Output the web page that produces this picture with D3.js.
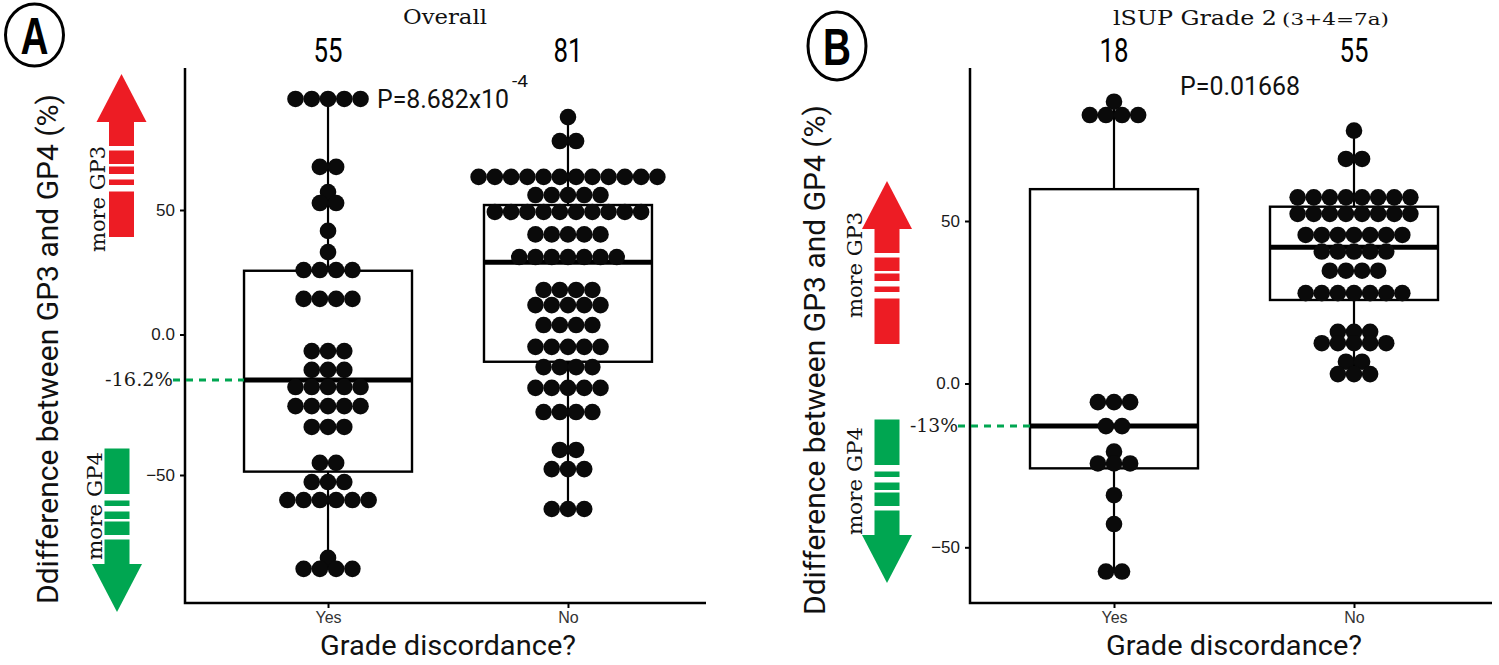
<!DOCTYPE html>
<html><head><meta charset="utf-8">
<script src="https://cdn.jsdelivr.net/npm/d3@7"></script>
<style>body{margin:0;background:#fff} svg{display:block}</style>
</head><body><svg id="c" width="1499" height="665"></svg>
<script>
// ---------- data ----------
const categories = ["Yes", "No"];
const yTicks = [-50, 0, 50];
const yTickLabels = ["\u221250", "0.0", "50"];

// Panel A (Overall): dot-plot bins (value) and number of dots in each bin
const aYesBins   = [94.6, 67.3, 57.2, 52.8, 41.6, 33.1, 25.9, 14.3, -5.9, -12.6, -18.7, -25.5, -32.9, -45.7, -52.5, -58.9, -79.5, -83.4];
const aYesCounts = [5, 2, 1, 2, 1, 1, 4, 4, 3, 3, 5, 5, 3, 2, 3, 6, 1, 4];
const aNoBins    = [87.3, 77.7, 63.3, 56.0, 49.2, 40.2, 31.1, 17.9, 11.8, 3.8, -4.4, -11.6, -19.0, -27.6, -41.1, -47.9, -62.1];
const aNoCounts  = [1, 2, 12, 5, 10, 5, 7, 4, 5, 4, 5, 4, 5, 4, 2, 3, 3];
// box stats: [lower whisker, q1, median, q3, upper whisker]
const aYesBox = [-83.4, -48.8, -16.2, 25.6, 94.6];
const aNoBox  = [-62.1, -9.7, 29.0, 52.0, 87.3];

// Panel B (ISUP Grade 2)
const bYesBins   = [86.7, 82.6, -5.7, -13.0, -20.8, -24.4, -34.1, -42.9, -57.4];
const bYesCounts = [1, 4, 3, 2, 1, 3, 1, 1, 2];
const bNoBins    = [77.8, 69.1, 57.3, 52.2, 45.7, 40.6, 34.7, 27.8, 15.9, 12.4, 6.7, 2.9];
const bNoCounts  = [1, 2, 8, 8, 7, 5, 4, 7, 3, 5, 2, 3];
const bYesBox = [-57.4, -25.9, -13, 59.8, 86.7];
const bNoBox  = [2.9, 25.7, 41.9, 54.4, 77.8];

const pTextA = "P=8.682x10", pExpA = "-4";
const pTextB = "P=0.01668";
const titleA = "Overall";
const titleB1 = "lSUP Grade 2", titleB2 = "(3+4=7a)";
const yTitle = "Ddifference between GP3 and GP4 (%)";
const xTitle = "Grade discordance?";

// ---------- drawing ----------
const svg = d3.select("#c");
const SANS = "Roboto, 'Liberation Sans', Arial, sans-serif";
const SERIF = "'DejaVu Serif', 'Liberation Serif', serif";
const RED = "#ed1c24", GREEN = "#00a651";

function arrow(g, cx, tipY, dir, color) {
  // dir = -1 : pointing up (tip at top), +1 : pointing down
  const headL = 48, headW = 25, shaftW = 12.5;
  const segs = [[48, 72], [77, 90], [93, 100], [106, 111], [118, 163]];
  const yy = d => tipY - dir * d;
  g.append("path")
    .attr("d", `M${cx},${yy(0)}L${cx + headW},${yy(headL)}L${cx - headW},${yy(headL)}Z`)
    .attr("fill", color);
  segs.forEach(([a, b]) => {
    const y1 = Math.min(yy(a), yy(b)), y2 = Math.max(yy(a), yy(b));
    g.append("rect").attr("x", cx - shaftW).attr("width", 2 * shaftW)
      .attr("y", y1 - 0.5).attr("height", y2 - y1 + 0.5).attr("fill", color);
  });
}

function drawPanel(cfg) {
  const g = svg.append("g");
  const x = d3.scalePoint().domain(categories).range([cfg.left, cfg.right]).padding(cfg.pad);
  const y = d3.scaleLinear().domain(yTicks).range(cfg.yRange);

  // axes
  const gy = g.append("g").attr("transform", `translate(${cfg.left},0)`)
    .call(d3.axisLeft(y).tickValues(yTicks).tickFormat((d, i) => yTickLabels[i]).tickSize(5).tickPadding(5));
  gy.select(".domain").remove();
  gy.selectAll("line").attr("stroke", "#000").attr("stroke-width", 2);
  gy.selectAll("text").attr("font-family", "'Liberation Sans', Arial, sans-serif").attr("font-size", 17).attr("fill", "#1a1a1a");

  const gx = g.append("g").attr("transform", `translate(0,${cfg.bottom})`)
    .call(d3.axisBottom(x).tickSize(5).tickPadding(4));
  gx.select(".domain").remove();
  gx.selectAll("line").attr("stroke", "#000").attr("stroke-width", 2);
  gx.selectAll("text").attr("font-family", "'Liberation Sans', Arial, sans-serif").attr("font-size", 16).attr("fill", "#333");

  g.append("path").attr("d", `M${cfg.left},${cfg.top}V${cfg.bottom}H${cfg.axisEnd}`)
    .attr("fill", "none").attr("stroke", "#000").attr("stroke-width", 2.5);

  const bw = 0.7 * x.step();
  categories.forEach((c, i) => {
    const cx = x(c), s = cfg.boxes[i];
    // whiskers
    g.append("line").attr("x1", cx).attr("x2", cx).attr("y1", y(s[4])).attr("y2", y(s[3]))
      .attr("stroke", "#000").attr("stroke-width", 2.2);
    g.append("line").attr("x1", cx).attr("x2", cx).attr("y1", y(s[1])).attr("y2", y(s[0]))
      .attr("stroke", "#000").attr("stroke-width", 2.2);
    g.append("rect").attr("x", cx - bw / 2).attr("width", bw)
      .attr("y", y(s[3])).attr("height", y(s[1]) - y(s[3]))
      .attr("fill", "none").attr("stroke", "#000").attr("stroke-width", 2.4);
    g.append("line").attr("x1", cx - bw / 2).attr("x2", cx + bw / 2).attr("y1", y(s[2])).attr("y2", y(s[2]))
      .attr("stroke", "#000").attr("stroke-width", 5);
    // dots
    const bins = cfg.bins[i], counts = cfg.counts[i];
    bins.forEach((v, j) => {
      const n = counts[j];
      for (let k = 0; k < n; k++) {
        g.append("circle").attr("cx", cx + (k - (n - 1) / 2) * cfg.dotStep).attr("cy", y(v))
          .attr("r", cfg.dotR).attr("fill", "#0a0a0a");
      }
    });
    // n labels
    g.append("text").attr("x", cx).attr("y", 62).attr("text-anchor", "middle")
      .attr("font-family", SANS).attr("font-size", 33)
      .attr("textLength", 29).attr("lengthAdjust", "spacingAndGlyphs")
      .text(d3.sum(counts));
  });

  // median dashed green line and label for "Yes"
  const med = cfg.boxes[0][2];
  const ym = y(med);
  g.append("line").attr("x1", cfg.left - 12).attr("x2", x("Yes") - bw / 2).attr("y1", ym).attr("y2", ym)
    .attr("stroke", GREEN).attr("stroke-width", 3).attr("stroke-dasharray", "7,6");
  g.append("text").attr("x", cfg.left - 12).attr("y", ym).attr("dy", "0.35em").attr("text-anchor", "end")
    .attr("font-family", SERIF).attr("font-size", 18).attr("fill", "#1a1a1a")
    .attr("textLength", cfg.medLen).attr("lengthAdjust", "spacingAndGlyphs")
    .text(`${med}%`);

  // axis titles
  g.append("text").attr("transform", `translate(${cfg.yTitleX},${cfg.yTitleY}) rotate(-90)`)
    .attr("text-anchor", "middle").attr("dy", "0.35em")
    .attr("font-family", SANS).attr("font-size", 29).attr("fill", "#111")
    .attr("textLength", 510).attr("lengthAdjust", "spacingAndGlyphs").text(yTitle);
  g.append("text").attr("x", (x("Yes") + x("No")) / 2).attr("y", 655).attr("text-anchor", "middle")
    .attr("font-family", SANS).attr("font-size", 28).attr("fill", "#111")
    .attr("textLength", 256).attr("lengthAdjust", "spacingAndGlyphs").text(xTitle);

  // arrows + labels
  arrow(g, cfg.redX, cfg.redTip, -1, RED);
  arrow(g, cfg.greenX, cfg.greenTip, 1, GREEN);
  g.append("text").attr("transform", `translate(${cfg.gp3X},${cfg.gp3Y}) rotate(-90)`)
    .attr("text-anchor", "middle").attr("dy", "0.35em").attr("font-family", SERIF).attr("font-size", 20)
    .attr("fill", "#111").attr("textLength", 106).attr("lengthAdjust", "spacingAndGlyphs").text("more GP3");
  g.append("text").attr("transform", `translate(${cfg.gp4X},${cfg.gp4Y}) rotate(-90)`)
    .attr("text-anchor", "middle").attr("dy", "0.35em").attr("font-family", SERIF).attr("font-size", 20)
    .attr("fill", "#111").attr("textLength", 108).attr("lengthAdjust", "spacingAndGlyphs").text("more GP4");

  // panel letter
  g.append("ellipse").attr("cx", cfg.circX).attr("cy", cfg.circY).attr("rx", 29).attr("ry", cfg.circRy)
    .attr("fill", "none").attr("stroke", "#000").attr("stroke-width", 3);
  g.append("text").attr("x", cfg.circX).attr("y", cfg.circY).attr("dy", "0.36em").attr("text-anchor", "middle")
    .attr("font-family", "'Liberation Sans', Arial, sans-serif").attr("font-weight", "bold").attr("font-size", 52)
    .attr("textLength", 28).attr("lengthAdjust", "spacingAndGlyphs").text(cfg.letter);
  return { x, y };
}

drawPanel({
  left: 185, right: 711, axisEnd: 706, top: 68, bottom: 603, pad: 0.596,
  yRange: [475, 334.5, 210], dotR: 8.3, dotStep: 16.25,
  bins: [aYesBins, aNoBins], counts: [aYesCounts, aNoCounts], boxes: [aYesBox, aNoBox],
  medLen: 68, yTitleX: 48, yTitleY: 349,
  redX: 121.5, redTip: 74, greenX: 117, greenTip: 612,
  gp3X: 98, gp3Y: 199, gp4X: 95, gp4Y: 506,
  circX: 34.5, circY: 35, circRy: 31, letter: "A"
});
drawPanel({
  left: 970, right: 1498, axisEnd: 1492, top: 68, bottom: 603, pad: 0.6,
  yRange: [547.3, 383.5, 221], dotR: 8.3, dotStep: 16.1,
  bins: [bYesBins, bNoBins], counts: [bYesCounts, bNoCounts], boxes: [bYesBox, bNoBox],
  medLen: 48, yTitleX: 815, yTitleY: 360,
  redX: 887, redTip: 181, greenX: 887, greenTip: 583,
  gp3X: 855, gp3Y: 265, gp4X: 855, gp4Y: 481,
  circX: 837, circY: 46, circRy: 34, letter: "B"
});

// titles and p-values
svg.append("text").attr("x", 445).attr("y", 24).attr("text-anchor", "middle")
  .attr("font-family", SERIF).attr("font-size", 21).attr("fill", "#111")
  .attr("textLength", 84).attr("lengthAdjust", "spacingAndGlyphs").text(titleA);
svg.append("text").attr("x", 1113).attr("y", 25)
  .attr("font-family", SERIF).attr("font-size", 21).attr("fill", "#111")
  .attr("textLength", 164).attr("lengthAdjust", "spacingAndGlyphs").text(titleB1);
svg.append("text").attr("x", 1282).attr("y", 25)
  .attr("font-family", SERIF).attr("font-size", 17).attr("fill", "#111")
  .attr("textLength", 107).attr("lengthAdjust", "spacingAndGlyphs").text(titleB2);

svg.append("text").attr("x", 377).attr("y", 108)
  .attr("font-family", SANS).attr("font-size", 25).attr("fill", "#111")
  .attr("textLength", 132).attr("lengthAdjust", "spacingAndGlyphs").text(pTextA);
svg.append("text").attr("x", 512).attr("y", 87)
  .attr("font-family", SANS).attr("font-size", 17).attr("fill", "#111")
  .attr("textLength", 16).attr("lengthAdjust", "spacingAndGlyphs").text(pExpA);
svg.append("text").attr("x", 1180).attr("y", 95)
  .attr("font-family", SANS).attr("font-size", 25).attr("fill", "#111")
  .attr("textLength", 120).attr("lengthAdjust", "spacingAndGlyphs").text(pTextB);
</script>
</body></html>
